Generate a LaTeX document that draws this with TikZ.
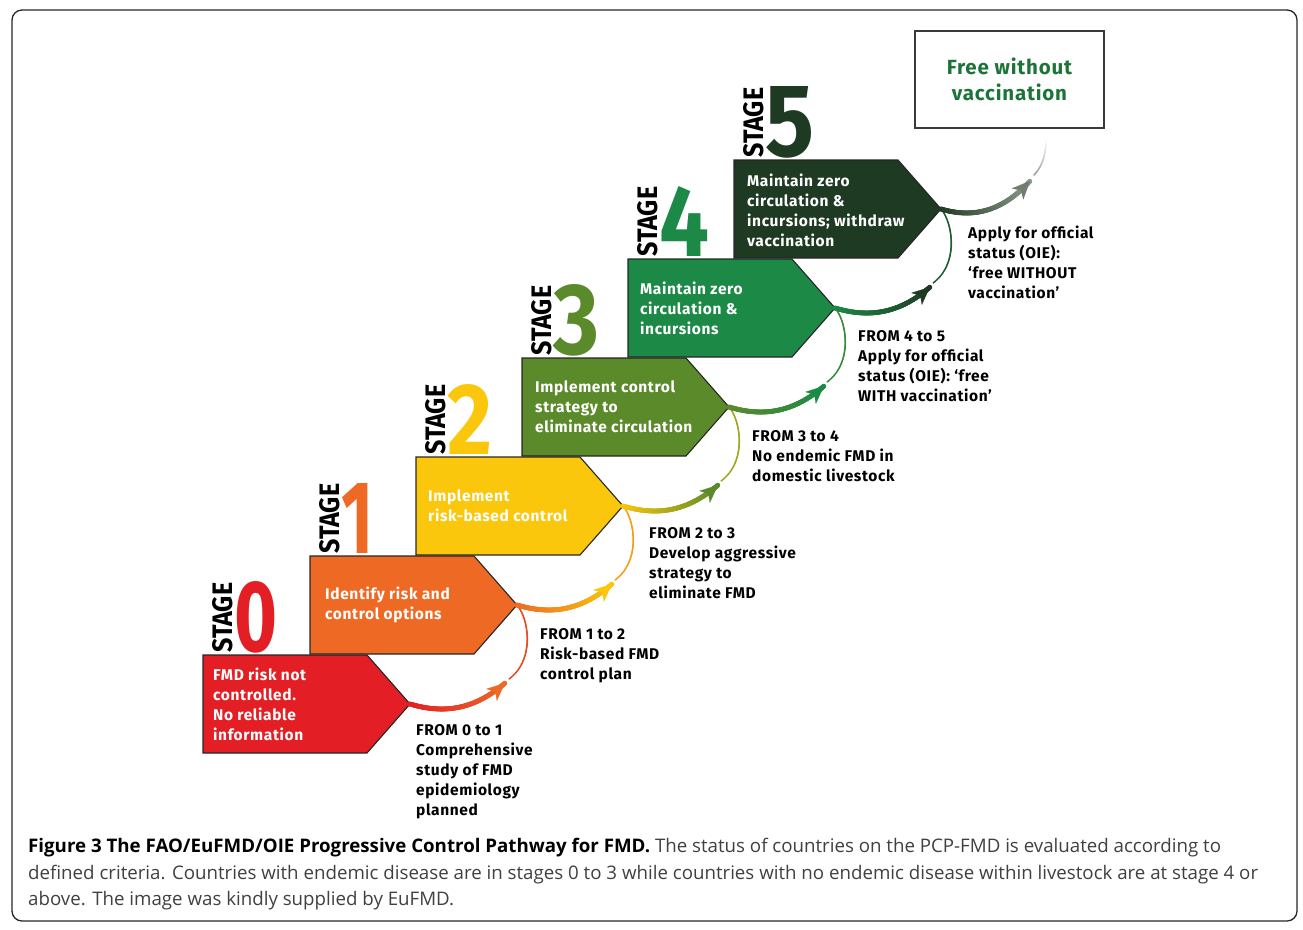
\documentclass[tikz,border=0pt]{standalone}
\usepackage{fontspec}
\usepackage{graphicx}
\usetikzlibrary{calc,arrows.meta,decorations.markings}

\newfontfamily\dinfont{Fira Sans}[LetterSpace=4]
\newfontfamily\digitfont{Fira Sans}
\newfontfamily\capfont{Open Sans}

\definecolor{st0}{HTML}{E31E24}
\definecolor{st1}{HTML}{EE6A24}
\definecolor{st2}{HTML}{FAC70C}
\definecolor{st3}{HTML}{5B8A2B}
\definecolor{st4}{HTML}{1C8A46}
\definecolor{st5}{HTML}{1F3A23}
\definecolor{fade}{HTML}{8E9C8E}
\definecolor{outline}{HTML}{262626}
\definecolor{fwgreen}{HTML}{1C7438}
\definecolor{boxgray}{HTML}{3A3A3A}
\definecolor{captext}{HTML}{404040}

\tikzset{
  stagebox/.style={draw=outline, line width=1.1pt, line join=miter},
  boxtext/.style={font=\dinfont\bfseries\fontsize{15.5}{20}\selectfont, text=white,
    align=left, anchor=west, inner sep=0pt},
  steptext/.style={font=\dinfont\bfseries\fontsize{15.5}{20}\selectfont, text=black,
    align=left, anchor=north west, inner sep=0pt},
  stagelbl/.style={font=\digitfont\bfseries, inner sep=0pt},
  headtip/.style={line width=0.2pt, -{Stealth[length=18pt,width=16pt,inset=5pt]}},
  % a stroke whose colour runs from #1 to #2, made of dots of radius #3
  gradline/.style n args={3}{postaction={decorate, decoration={markings,
    mark=between positions 0 and 1 step 0.6pt with {
      \pgfmathsetmacro\mixpc{max(0,min(100,100-100*\pgfkeysvalueof{/pgf/decoration/mark info/distance from start}/\pgfdecoratedpathlength))}
      \fill[#1!\mixpc!#2] (0,0) circle (#3);
    }}}},
  caption/.style={font=\capfont\fontsize{18.7}{26}\selectfont, text=captext,
    anchor=base west, inner sep=0pt},
}

\begin{document}
\begin{tikzpicture}[x=1pt, y=-1pt]
\useasboundingbox (0,0) rectangle (1303,929);

% outer frame
\draw[outline, line width=1.3pt, rounded corners=10pt] (12,10) rectangle (1297,921);

% the six stage arrows with their STAGE labels and numbers
\foreach \k/\xo/\yt/\dw in {0/203/655/43, 1/310/556/32, 2/416/457/45,
                             3/522/358/46, 4/628/259/50, 5/734/160/49}{
  \draw[stagebox, fill=st\k] (\xo,\yt) -- ++(164,0) -- ++(43,49) -- ++(-43,49)
    -- ++(-164,0) -- cycle;
  \coordinate (tip\k) at (\xo+207,\yt+49);
  \node[stagelbl, rotate=90, anchor=south west] (lbl\k) at (\xo+30,\yt-2)
    {\resizebox{70pt}{20pt}{STAGE}};
  \node[stagelbl, anchor=south west, text=st\k] (num\k) at (\xo+31,\yt-2)
    {\resizebox{\dw pt}{70pt}{\k}};
}

% texts inside the stage arrows
\node[boxtext] (t0) at (213,704) {FMD risk not\\controlled.\\No reliable\\information};
\node[boxtext] (t1) at (325,605) {Identify risk and\\control options};
\node[boxtext] (t2) at (428,506) {Implement\\risk-based control};
\node[boxtext] (t3) at (535,407) {Implement control\\strategy to\\eliminate circulation};
\node[boxtext] (t4) at (640,308) {Maintain zero\\circulation \&\\incursions};
\node[boxtext] (t5) at (747,210) {Maintain zero\\circulation \&\\incursions; withdraw\\vaccination};

% curved transitions between stages
\foreach \k/\n in {0/1,1/2,2/3,3/4,4/5}{
  \coordinate (head\k) at ($(tip\k)+(95,-21)$);
  \path[gradline={st\k}{st\n}{2.5pt}] (tip\k) .. controls ($(tip\k)+(30,9)$)
    and ($(tip\k)+(62,8)$) .. (head\k);
  \draw[headtip, st\n] ($(head\k)+(-1.3,1.15)$) -- (head\k);
  \path[gradline={st\n}{st\n!55!st\k}{0.9pt}] (tip\n) .. controls ($(tip\n)+(12,14)$)
    and ($(tip\n)+(18,55)$) .. ($(tip\n)+(-8,74)$);
}

% final transition towards the status box
\coordinate (head5) at ($(tip5)+(89,-28)$);
\path[gradline={st5}{fade}{2.5pt}] (tip5) .. controls ($(tip5)+(30,9)$)
  and ($(tip5)+(60,4)$) .. (head5);
\draw[headtip, fade!80!black] ($(head5)+(-1.2,1.25)$) -- (head5);
\coordinate (fwvend) at (1046,140);
\path[gradline={fade}{white}{0.9pt}] ($(head5)+(4,-6)$) .. controls (1041,168)
  and (1046,156) .. (fwvend);

% final status box
\node[draw=boxgray, line width=2pt, minimum width=189pt, minimum height=97pt,
  inner sep=0pt, align=center, text=fwgreen,
  font=\dinfont\bfseries\fontsize{20.5}{26}\selectfont] (fwv) at (1009.5,79.5)
  {Free without\\vaccination};

% transition descriptions
\node[steptext] (d01) at (416,724) {FROM 0 to 1\\Comprehensive\\study of FMD\\epidemiology\\planned};
\node[steptext] (d12) at (540,628) {FROM 1 to 2\\Risk-based FMD\\control plan};
\node[steptext] (d23) at (649,527) {FROM 2 to 3\\Develop aggressive\\strategy to\\eliminate FMD};
\node[steptext] (d34) at (752,430) {FROM 3 to 4\\No endemic FMD in\\domestic livestock};
\node[steptext] (d45) at (858,330) {FROM 4 to 5\\Apply for official\\status (OIE): ‘free\\WITH vaccination’};
\node[steptext] (d5f) at (968,226) {Apply for official\\status (OIE):\\‘free WITHOUT\\vaccination’};

% caption
\node[caption] (cap1) at (28,852) {{\color{black}\bfseries Figure 3 The FAO/EuFMD/OIE Progressive Control Pathway for FMD.} The status of countries on the PCP-FMD is evaluated according to};
\node[caption] (cap2) at (28,879) {defined criteria. Countries with endemic disease are in stages 0 to 3 while countries with no endemic disease within livestock are at stage 4 or};
\node[caption] (cap3) at (28,905) {above. The image was kindly supplied by EuFMD.};
\end{tikzpicture}
\end{document}
